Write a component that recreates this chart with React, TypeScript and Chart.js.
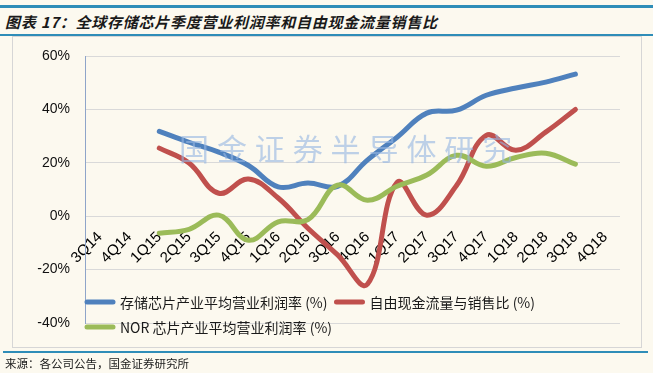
import React, { useEffect, useRef } from "react";
import { Chart, registerables } from "chart.js";

Chart.register(...registerables);

const titleText = "图表 17：全球存储芯片季度营业利润率和自由现金流量销售比";
const sourceText = "来源：各公司公告，国金证券研究所";
const watermarkText = "国金证券半导体研究";

const categories = [
  "3Q14", "4Q14", "1Q15", "2Q15", "3Q15", "4Q15", "1Q16", "2Q16", "3Q16",
  "4Q16", "1Q17", "2Q17", "3Q17", "4Q17", "1Q18", "2Q18", "3Q18", "4Q18",
];

const seriesLabels = [
  "存储芯片产业平均营业利润率 (%)",
  "自由现金流量与销售比 (%)",
  "NOR 芯片产业平均营业利润率 (%)",
];

const storageMargin = [null, null, 31.8, 27.7, 24, 19, 11, 12.4, 11.2, 21, 29.6, 38.6, 39.7, 45.3, 48, 50.2, 53.2, null];
const fcfToSales = [null, null, 25.5, 19.9, 8.6, 13.9, 6.8, -4.5, -14.5, -25.5, 12.7, 0.4, 11.5, 30.3, 24.7, 31.5, 40, null];
const norMargin = [null, null, -6.4, -4.9, 0.4, -9, -2.1, -1.3, 11.6, 6, 11.2, 15.4, 22.8, 18.7, 22, 23.6, 19.5, null];

const yMin = -40;
const yMax = 60;
const yStep = 20;

const colors = ["#4F81BD", "#C0504D", "#9BBB59"];

const legendRows = [[0, 1], [2]];

const watermarkPlugin = {
  id: "watermark",
  afterDatasetsDraw(chart: any) {
    const ctx = chart.ctx;
    ctx.save();
    ctx.font = '30px "Noto Sans CJK SC"';
    ctx.fillStyle = "rgba(150,182,226,0.62)";
    ctx.textBaseline = "middle";
    ctx.textAlign = "center";
    const chars = Array.from(watermarkText);
    chars.forEach((c, i) => {
      ctx.fillText(c, 194 + i * 37.9, 149);
    });
    ctx.restore();
  },
};

const legendPlugin = {
  id: "customLegend",
  afterDraw(chart: any) {
    const ctx = chart.ctx;
    ctx.save();
    ctx.font = '14px "Noto Sans CJK SC"';
    ctx.textBaseline = "middle";
    ctx.textAlign = "left";
    const rowY = [302, 327];
    legendRows.forEach((row, r) => {
      let x = 85;
      row.forEach((idx) => {
        const ds = chart.data.datasets[idx];
        ctx.strokeStyle = ds.borderColor;
        ctx.lineWidth = 5;
        ctx.lineCap = "round";
        ctx.beginPath();
        ctx.moveTo(x + 2, rowY[r]);
        ctx.lineTo(x + 28, rowY[r]);
        ctx.stroke();
        ctx.fillStyle = "#1a1a1a";
        ctx.fillText(ds.label, x + 35, rowY[r] + 1);
        x += 35 + ctx.measureText(ds.label).width + 7;
      });
    });
    ctx.restore();
  },
};

export default function App() {
  const canvasRef = useRef<HTMLCanvasElement | null>(null);

  useEffect(() => {
    const canvas = canvasRef.current;
    if (!canvas) return;
    const series = [storageMargin, fcfToSales, norMargin];
    const chart = new Chart(canvas, {
      type: "line",
      data: {
        labels: categories,
        datasets: series.map((d, i) => ({
          label: seriesLabels[i],
          data: d,
          borderColor: colors[i],
          backgroundColor: colors[i],
          borderWidth: 5,
          pointRadius: 0,
          tension: 0.4,
          borderCapStyle: "round",
          borderJoinStyle: "round",
          fill: false,
          order: 3 - i,
        })),
      },
      options: {
        animation: false,
        responsive: false,
        maintainAspectRatio: false,
        devicePixelRatio: 1,
        layout: { padding: { left: 0, right: 33, top: 56, bottom: 50 } },
        plugins: {
          legend: { display: false },
          tooltip: { enabled: false },
          title: { display: false },
        },
        scales: {
          x: {
            type: "category",
            position: { y: 0 } as any,
            offset: true,
            grid: { display: false, drawTicks: false },
            border: { display: false },
            ticks: {
              autoSkip: false,
              maxRotation: 45,
              minRotation: 45,
              padding: 12,
              color: "#000",
              font: { family: '"Liberation Sans", Arial, sans-serif', size: 15 },
            },
          },
          y: {
            min: yMin,
            max: yMax,
            afterFit: (s: any) => {
              s.width = 85;
            },
            grid: { color: "#D9D9D9", lineWidth: 1, drawTicks: false },
            border: { display: true, color: "#8FA5C9", width: 1 },
            ticks: {
              stepSize: yStep,
              padding: 15,
              color: "#111",
              font: { family: '"Liberation Sans", Arial, sans-serif', size: 14 },
              callback: (v: any) => `${v}%`,
            },
          },
        },
      },
      plugins: [watermarkPlugin, legendPlugin],
    });
    return () => chart.destroy();
  }, []);

  return (
    <div
      style={{
        position: "fixed",
        left: 0,
        top: 0,
        width: 653,
        height: 373,
        background: "#FCF9EF",
        overflow: "hidden",
        fontFamily: '"Noto Sans CJK SC", sans-serif',
      }}
    >
      <div style={{ position: "absolute", left: 12, top: 36, width: 630, height: 312, border: "1px solid #D6D6D6", boxSizing: "border-box" }} />
      <div style={{ position: "absolute", left: 0, top: 5, width: 653, height: 3, background: "#2F8DB8" }} />
      <div
        style={{
          position: "absolute",
          left: 5,
          top: 10,
          fontSize: 15,
          fontWeight: "bold",
          fontStyle: "italic",
          letterSpacing: "0.75px",
          color: "#1a1a1a",
          lineHeight: "24px",
          whiteSpace: "nowrap",
        }}
      >
        {titleText}
      </div>
      <div style={{ position: "absolute", left: 0, top: 34, width: 653, height: 2, background: "#2F8DB8" }} />
      <canvas ref={canvasRef} width={653} height={373} style={{ position: "absolute", left: 0, top: 0, width: 653, height: 373 }} />
      <div style={{ position: "absolute", left: 3, top: 351, width: 645, height: 2, background: "#2F8DB8" }} />
      <div
        style={{
          position: "absolute",
          left: 5,
          top: 354,
          fontSize: 11.5,
          color: "#1a1a1a",
          lineHeight: "18px",
          whiteSpace: "nowrap",
        }}
      >
        {sourceText}
      </div>
    </div>
  );
}
